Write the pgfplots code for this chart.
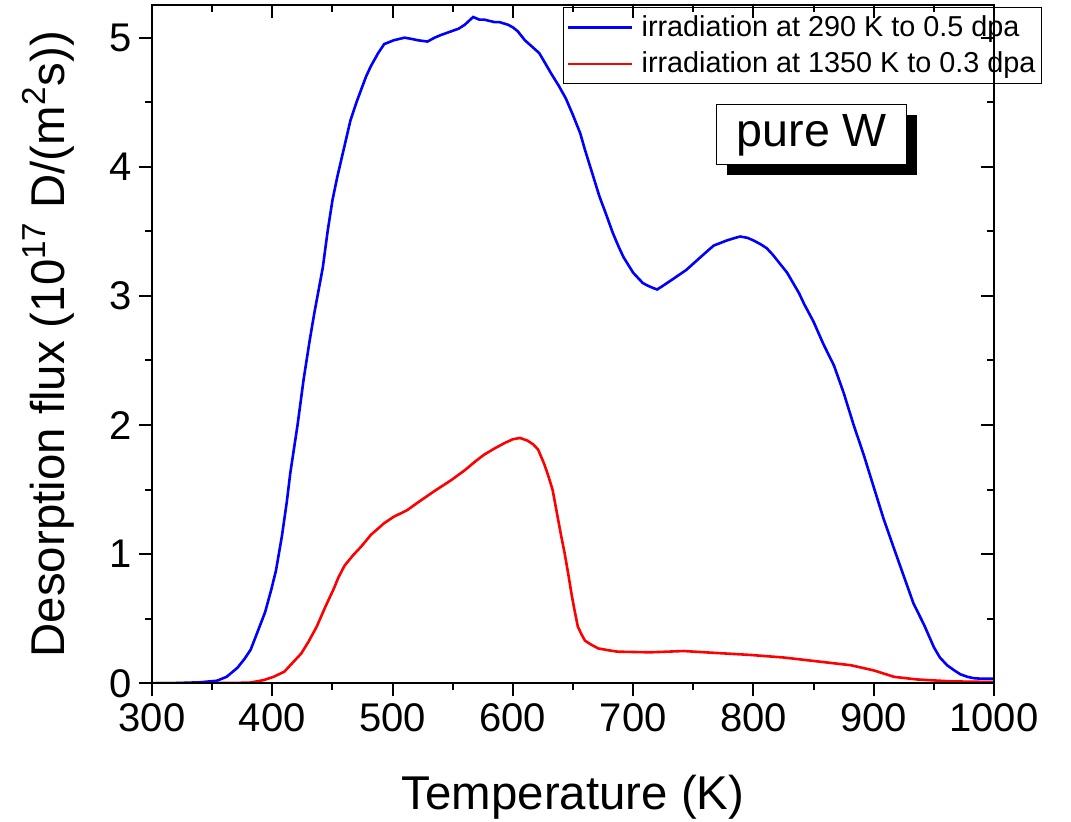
\documentclass[border=0pt]{standalone}
\usepackage{pgfplots}
\pgfplotsset{compat=1.18}
\usepackage{fontspec}
\setmainfont{Liberation Sans}
\begin{document}
\begin{tikzpicture}
\pgfplotsset{
  common/.style={
    scale only axis, width=421pt, height=339.15pt,
    xmin=300, xmax=1000, ymin=0, ymax=5.253,
    xtick={300,400,...,1000}, ytick={0,1,...,5},
    minor xtick={350,450,...,950}, minor ytick={0.5,1.5,...,4.5},
    major tick length=6.5pt, minor tick length=3.5pt,
    every tick/.style={black, line width=1pt},
    axis line style={line width=1pt},
    tick label style={font=\fontsize{20}{20}\selectfont},
    /pgf/number format/assume math mode=true,
    /pgf/number format/1000 sep={},
  }
}
\begin{axis}[common,
  tick pos=left, tick align=outside,
  every axis x label/.style={at={(axis description cs:0.5,-0.1856)}, anchor=base},
  every axis y label/.style={at={(axis description cs:-0.1045,0.5)}, rotate=90, anchor=base},
  xlabel={Temperature (K)},
  ylabel={Desorption flux (10\textsuperscript{17} D/(m\textsuperscript{2}s))},
  label style={font=\fontsize{23.7}{23.7}\selectfont},
  legend style={at={(axis description cs:1.057,0.9966)}, anchor=north east,
    draw=black, line width=0.5pt, font=\fontsize{14.4}{14.4}\selectfont,
    inner xsep=1pt, inner ysep=2pt, row sep=2.2pt, cells={anchor=west}},
  legend image code/.code={\draw[#1, line width=1.3pt] (0pt,0pt) -- (32pt,0pt);
    \path (-1pt,0pt) (34pt,0pt);},
]
\addplot[blue, line width=1.3pt] coordinates {
(300,0) (320,0.002) (340,0.008) (354,0.02) (362,0.05) (371,0.12) (377,0.19)
(382,0.26) (387,0.38) (394,0.55) (399,0.72) (403,0.87) (408,1.14) (412,1.40)
(415,1.63) (421,2.0) (426,2.35) (431,2.65) (435,2.87) (442,3.22) (446,3.50)
(450,3.74) (454,3.92) (458,4.08) (462,4.24) (465,4.36) (470,4.50) (474,4.60)
(478,4.70) (482,4.78) (488,4.88) (493,4.95) (501,4.98) (510,5.00) (516,4.99)
(521,4.98) (529,4.97) (535,5.00) (540,5.02) (549,5.05) (555,5.07) (560,5.10)
(567,5.16) (572,5.14) (576,5.14) (585,5.12) (589,5.12) (596,5.10) (600,5.08)
(604,5.05) (610,4.98) (616,4.93) (622,4.88) (627,4.80) (632,4.72) (638,4.63)
(644,4.53) (650,4.40) (656,4.26) (660,4.13) (664,4.01) (668,3.89) (672,3.77)
(678,3.62) (683,3.49) (688,3.38) (692,3.30) (700,3.18) (708,3.10) (712,3.08)
(717,3.06) (720,3.05) (725,3.08) (733,3.13) (744,3.20) (750,3.25) (756,3.30)
(762,3.35) (767,3.39) (778,3.43) (785,3.45) (789,3.46) (795,3.45) (800,3.43)
(806,3.40) (811,3.37) (816,3.32) (822,3.25) (828,3.18) (833,3.10) (838,3.02)
(842,2.94) (850,2.80) (858,2.63) (867,2.46) (875,2.25) (883,2.01) (892,1.76)
(900,1.52) (908,1.28) (917,1.04) (925,0.83) (933,0.62) (942,0.45) (950,0.28)
(955,0.20) (961,0.14) (967,0.10) (972,0.07) (978,0.05) (983,0.04) (990,0.035)
(1000,0.035)
};
\addlegendentry{irradiation at 290 K to 0.5 dpa}
\addplot[red, line width=1.3pt] coordinates {
(300,0) (340,0.001) (370,0.003) (382,0.006) (393,0.025) (401,0.05) (410,0.09)
(418,0.17) (424,0.23) (430,0.32) (437,0.44) (444,0.59) (451,0.73) (455,0.82)
(460,0.91) (467,0.99) (474,1.06) (482,1.15) (493,1.24) (501,1.29) (512,1.34)
(521,1.40) (535,1.49) (549,1.575) (560,1.65) (569,1.72) (576,1.77) (585,1.82)
(593,1.86) (600,1.89) (606,1.90) (612,1.88) (617,1.85) (621,1.81) (626,1.70)
(629,1.62) (633,1.50) (637,1.30) (640,1.15) (643,1.01) (646,0.85) (649,0.68)
(651,0.58) (654,0.44) (657,0.38) (660,0.33) (665,0.30) (671,0.27) (680,0.255)
(687,0.245) (714,0.24) (742,0.25) (769,0.235) (797,0.22) (825,0.20) (853,0.17)
(881,0.14) (900,0.10) (917,0.05) (936,0.03) (964,0.015) (1000,0.01)
};
\addlegendentry{irradiation at 1350 K to 0.3 dpa}
\node[fill=black, minimum width=95pt, minimum height=30pt, inner sep=0pt]
  at ([xshift=5pt,yshift=-5pt]axis cs:848.6,4.247) {};
\node[draw=black, line width=0.5pt, fill=white, minimum width=95pt, minimum height=30pt,
  inner sep=0pt, font=\fontsize{23.3}{23.3}\selectfont] at (axis cs:848.6,4.247) {pure W};
\end{axis}
\begin{axis}[common,
  tick pos=right, tick align=inside,
  xticklabels={}, yticklabels={},
]
\end{axis}
\pgfresetboundingbox
\path[use as bounding box] (-76pt,-68.85pt) rectangle (459.5pt,341.65pt);
\end{tikzpicture}
\end{document}
